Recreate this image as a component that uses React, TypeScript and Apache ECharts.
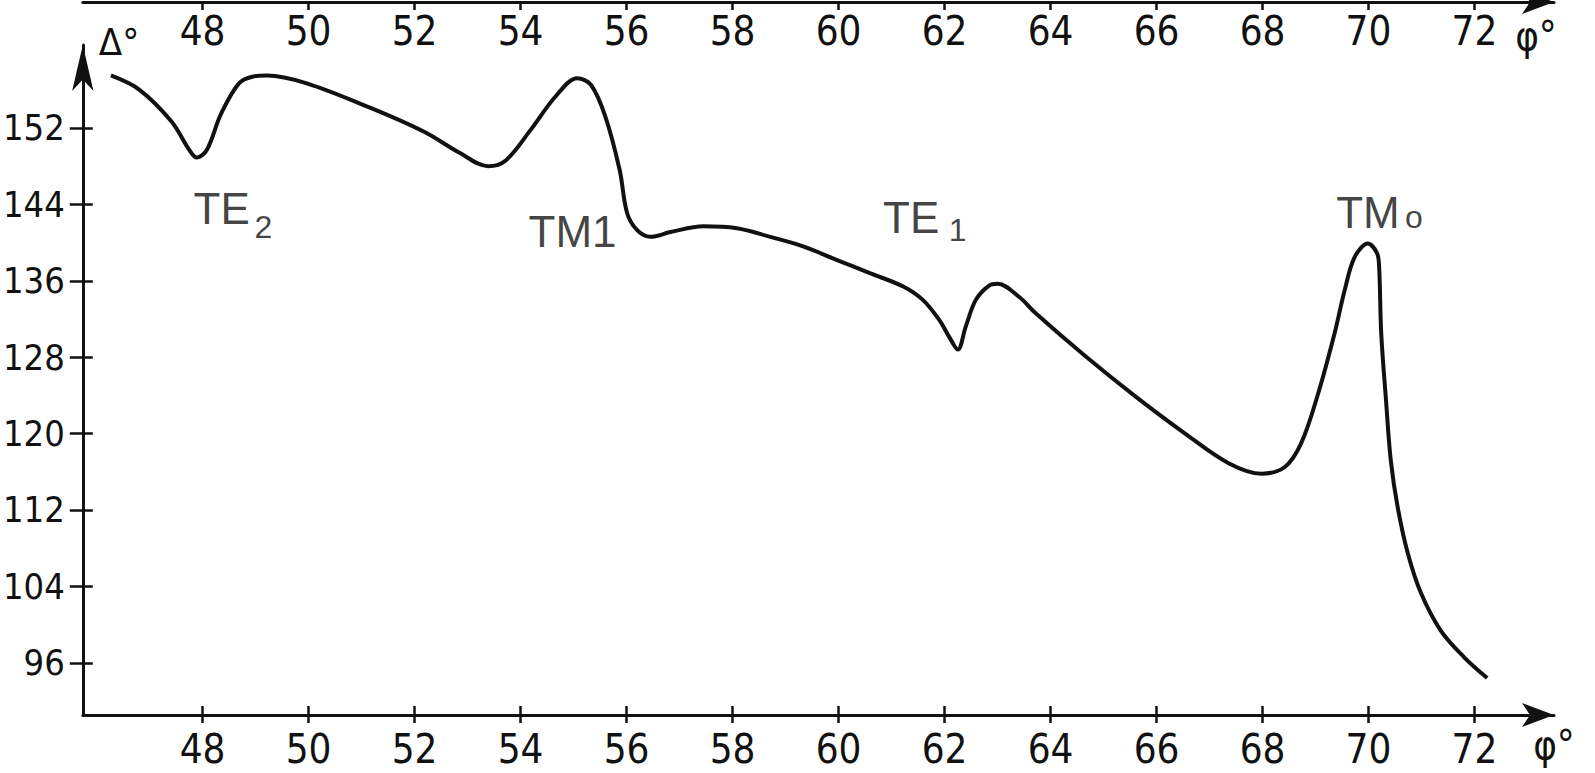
import React, { useEffect, useRef } from "react";
import * as echarts from "echarts";

// φ (degrees) and Δ (degrees)
const phi = [
  46.27, 46.81, 47.41, 47.75, 47.89, 48.08, 48.35, 48.69, 48.96, 49.22, 49.95, 51.17,
  52.18, 52.85, 53.39, 53.72, 54.19, 54.66, 55.07, 55.33, 55.6, 55.87, 56.01, 56.2,
  56.45, 56.83, 57.45, 58.08, 58.71, 59.33, 59.96, 60.59, 61.22, 61.59, 61.9, 62.09,
  62.25, 62.4, 62.59, 62.84, 63.0, 63.41, 63.72, 64.66, 65.6, 66.54, 67.36, 67.98,
  68.42, 68.73, 69.05, 69.36, 69.55, 69.74, 69.99, 70.16, 70.2, 70.24, 70.33, 70.42,
  70.55, 70.74, 70.99, 71.36, 71.8, 72.24,
];
const delta = [
  157.5, 156.0, 152.7, 149.7, 148.9, 149.7, 153.5, 156.7, 157.4, 157.5, 156.7, 154.1,
  151.6, 149.4, 148.0, 148.6, 151.8, 155.3, 157.2, 156.5, 153.2, 147.6, 143.1, 141.3,
  140.6, 141.1, 141.7, 141.5, 140.6, 139.6, 138.2, 136.8, 135.4, 134.0, 131.9, 130.1,
  128.8, 131.2, 134.0, 135.5, 135.7, 134.3, 132.6, 128.1, 123.9, 120.0, 116.9, 115.8,
  116.5, 119.0, 124.2, 130.5, 135.0, 138.5, 139.9, 138.9, 137.5, 130.5, 123.5, 117.2,
  112.3, 107.5, 103.3, 99.4, 96.6, 94.4,
];

const xTicks = [48, 50, 52, 54, 56, 58, 60, 62, 64, 66, 68, 70, 72];
const yTicks = [96, 104, 112, 120, 128, 136, 144, 152];

// mode annotations (left edge x, vertical centre y, text)
const noteX = [47.83, 54.15, 60.84, 69.39];
const noteY = [143.6, 141.2, 142.6, 143.2];
const noteText = ["TE", "TM1", "TE", "TM"];
// their subscripts
const subX = [48.98, 62.08, 70.69];
const subY = [141.6, 141.3, 142.7];
const subText = ["2", "1", "o"];

const X_MIN = 45.74;
const X_MAX = 73.5;
const Y_MIN = 90.53;
const Y_MAX = 160.69;

const INK = "#111111";
const FONT = '"Liberation Sans Narrow", "DejaVu Sans Condensed", "Liberation Sans", sans-serif';
const NOTE_FONT = '"Liberation Sans", Arial, sans-serif';

export default function App() {
  const ref = useRef<HTMLDivElement>(null);
  useEffect(() => {
    if (!ref.current) return;
    const chart = echarts.init(ref.current, null, { renderer: "svg" });
    const lineData = phi.map((p, i) => [p, delta[i]]);
    const noteData = noteX.map((x, i) => ({ value: [x, noteY[i]], text: noteText[i] }));
    const subData = subX.map((x, i) => ({ value: [x, subY[i]], text: subText[i] }));
    const labelStyle = { color: INK, fontFamily: FONT };
    const textSeries = (data: any[], size: number) => ({
      type: "scatter",
      xAxisIndex: 0,
      yAxisIndex: 0,
      data,
      symbolSize: 0,
      silent: true,
      label: {
        show: true,
        position: "inside",
        align: "left",
        verticalAlign: "middle",
        fontSize: size,
        color: INK,
        fontFamily: NOTE_FONT,
        formatter: (p: any) => p.data.text,
      },
    });
    chart.setOption({
      animation: false,
      backgroundColor: "#ffffff",
      grid: { left: 77, right: 41, top: 45, bottom: 58, containLabel: false },
      xAxis: [
        {
          type: "value",
          min: X_MIN,
          max: X_MAX,
          position: "bottom",
          axisLine: {
            show: true,
            symbol: ["none", "arrow"],
            symbolSize: [18, 32],
            lineStyle: { color: INK, width: 3 },
          },
          axisTick: { show: true, customValues: xTicks, length: 8, lineStyle: { color: INK, width: 2.5 } },
          axisLabel: {
            show: true,
            customValues: xTicks,
            margin: 34,
            verticalAlign: "middle",
            fontSize: 40,
            ...labelStyle,
          },
          splitLine: { show: false },
          name: "φ°",
          nameLocation: "end",
          nameGap: 0,
          nameTextStyle: { ...labelStyle, fontSize: 40, align: "center", verticalAlign: "top", padding: [10, 0, 0, 0] },
        },
        {
          type: "value",
          min: X_MIN,
          max: X_MAX,
          position: "top",
          offset: 43,
          axisLine: {
            show: true,
            symbol: ["none", "arrow"],
            symbolSize: [18, 32],
            lineStyle: { color: INK, width: 3 },
          },
          axisTick: { show: true, inside: true, customValues: xTicks, length: 8, lineStyle: { color: INK, width: 2.5 } },
          axisLabel: {
            show: true,
            inside: true,
            customValues: xTicks,
            margin: 29,
            verticalAlign: "middle",
            fontSize: 40,
            ...labelStyle,
          },
          splitLine: { show: false },
          name: "φ°",
          nameLocation: "end",
          nameGap: -18,
          nameTextStyle: { ...labelStyle, fontSize: 40, align: "center", verticalAlign: "top", padding: [14, 0, 0, 0] },
        },
        {
          type: "value",
          min: X_MIN,
          max: X_MAX,
          position: "bottom",
          axisLine: { show: false },
          axisTick: { show: true, inside: true, customValues: xTicks, length: 9, lineStyle: { color: INK, width: 2.5 } },
          axisLabel: { show: false },
          splitLine: { show: false },
        },
      ],
      yAxis: [
        {
          type: "value",
          min: Y_MIN,
          max: Y_MAX,
          position: "left",
          axisLine: {
            show: true,
            symbol: ["none", "arrow"],
            symbolSize: [16, 46],
            lineStyle: { color: INK, width: 3 },
          },
          axisTick: { show: true, customValues: yTicks, length: 13, lineStyle: { color: INK, width: 2.5 } },
          axisLabel: { show: true, customValues: yTicks, margin: 18, fontSize: 36, ...labelStyle },
          splitLine: { show: false },
          name: "Δ°",
          nameLocation: "end",
          nameGap: 3,
          nameTextStyle: { ...labelStyle, fontSize: 38, align: "left", verticalAlign: "middle", padding: [0, 0, 0, 16] },
        },
        {
          type: "value",
          min: Y_MIN,
          max: Y_MAX,
          position: "left",
          axisLine: { show: false },
          axisTick: { show: true, inside: true, customValues: yTicks, length: 10, lineStyle: { color: INK, width: 2.5 } },
          axisLabel: { show: false },
          splitLine: { show: false },
        },
      ],
      series: [
        {
          type: "line",
          xAxisIndex: 0,
          yAxisIndex: 0,
          data: lineData,
          smooth: 0.35,
          showSymbol: false,
          lineStyle: { color: INK, width: 4 },
          silent: true,
        },
        textSeries(noteData, 44),
        textSeries(subData, 32),
      ],
    });
    return () => chart.dispose();
  }, []);
  return <div ref={ref} style={{ position: "absolute", left: 0, top: 0, width: 1595, height: 773 }} />;
}
